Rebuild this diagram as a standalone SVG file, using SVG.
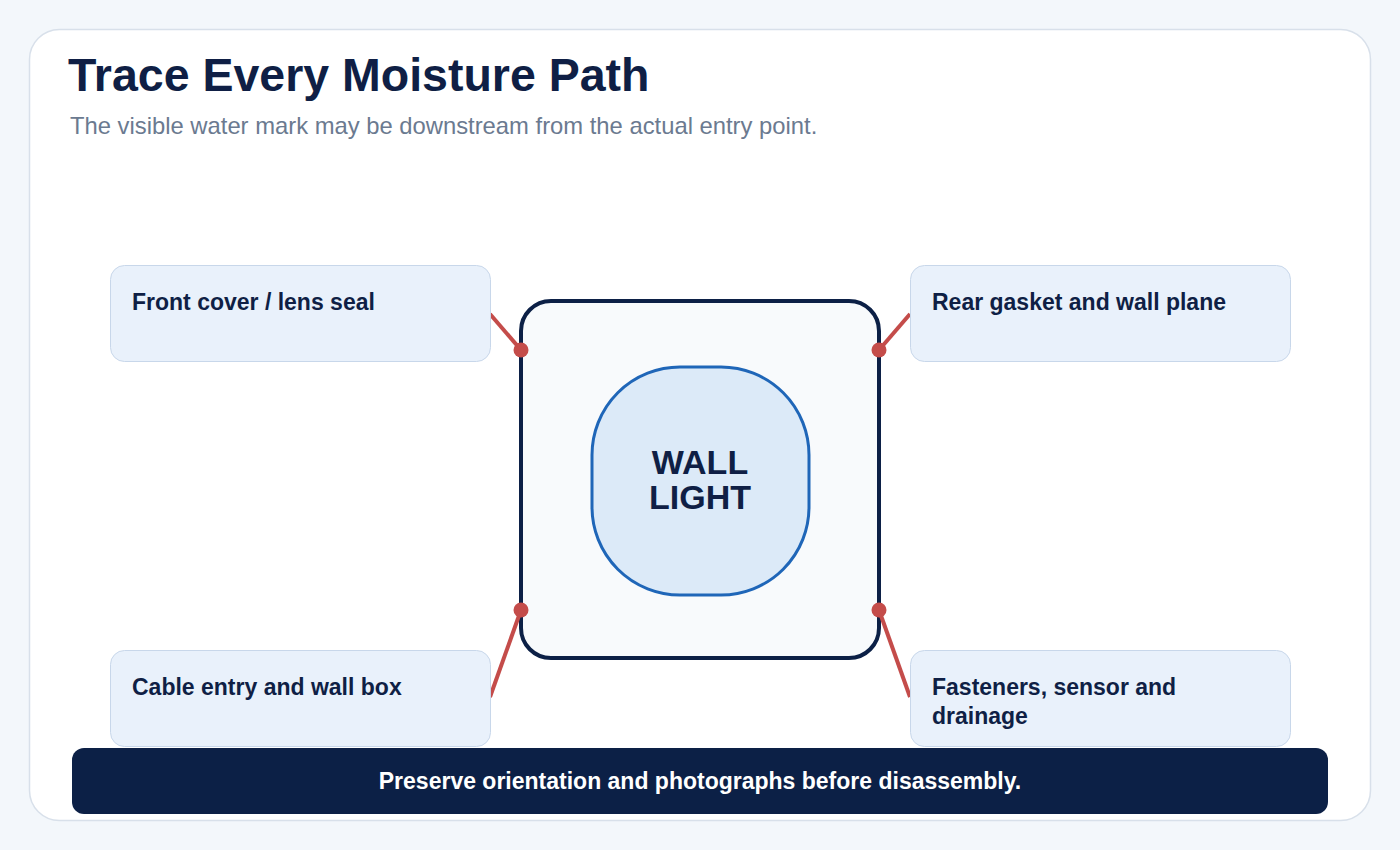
<svg xmlns="http://www.w3.org/2000/svg" width="1400" height="850" viewBox="0 0 1400 850">
<style>
.t{font-family:"Liberation Sans",Arial,sans-serif}
.box{fill:#e9f1fb;stroke:#c8d7ea;stroke-width:1}
.lbl{font-family:"Liberation Sans",Arial,sans-serif;font-weight:700;font-size:23px;fill:#0f1f45}
.lead{stroke:#c44c4a;stroke-width:4;stroke-linecap:butt}
.dot{fill:#c44c4a}
</style>
<rect width="1400" height="850" fill="#f3f7fb"/>
<rect x="29.500" y="29.500" width="1341" height="791" rx="30" fill="#ffffff" stroke="#d8e0ea" stroke-width="1.500"/>
<text class="t" x="68" y="91" font-size="46.500" font-weight="700" fill="#0f1f45">Trace Every Moisture Path</text>
<text class="t" x="70" y="134" font-size="23.800" fill="#6b7a90">The visible water mark may be downstream from the actual entry point.</text>
<g id="housing">
<rect x="521" y="301" width="358" height="357" rx="30" fill="#f8fafc" stroke="#0c2046" stroke-width="4"/>
</g>
<g id="connectors">
<line class="lead" x1="490" y1="314" x2="521" y2="350"/>
<circle class="dot" cx="521" cy="350" r="7.500"/>
<line class="lead" x1="910" y1="314" x2="879" y2="350"/>
<circle class="dot" cx="879" cy="350" r="7.500"/>
<line class="lead" x1="490" y1="697" x2="521" y2="610"/>
<circle class="dot" cx="521" cy="610" r="7.500"/>
<line class="lead" x1="910" y1="697" x2="879" y2="610"/>
<circle class="dot" cx="879" cy="610" r="7.500"/>
</g>
<g id="wall-light">
<rect x="592" y="367" width="217" height="228" rx="88" fill="#dceaf8" stroke="#1f66b8" stroke-width="3"/>
<text class="t" x="700" y="474" font-size="34" font-weight="700" fill="#0f1f45" text-anchor="middle">WALL</text>
<text class="t" x="700" y="509" font-size="34" font-weight="700" fill="#0f1f45" text-anchor="middle">LIGHT</text>
</g>
<g id="front-cover">
<rect class="box" x="110.500" y="265.500" width="380" height="96" rx="14"/>
<text class="lbl" x="132" y="310">Front cover / lens seal</text>
</g>
<g id="rear-gasket">
<rect class="box" x="910.500" y="265.500" width="380" height="96" rx="14"/>
<text class="lbl" x="932" y="310">Rear gasket and wall plane</text>
</g>
<g id="cable-entry">
<rect class="box" x="110.500" y="650.500" width="380" height="96" rx="14"/>
<text class="lbl" x="132" y="695">Cable entry and wall box</text>
</g>
<g id="fasteners">
<rect class="box" x="910.500" y="650.500" width="380" height="96" rx="14"/>
<text class="lbl" x="932" y="695">Fasteners, sensor and</text>
<text class="lbl" x="932" y="724">drainage</text>
</g>
<g id="footer">
<rect x="72" y="748" width="1256" height="66" rx="12" fill="#0c2046"/>
<text class="t" x="700" y="789" font-size="23" font-weight="700" fill="#ffffff" text-anchor="middle">Preserve orientation and photographs before disassembly.</text>
</g>
</svg>
